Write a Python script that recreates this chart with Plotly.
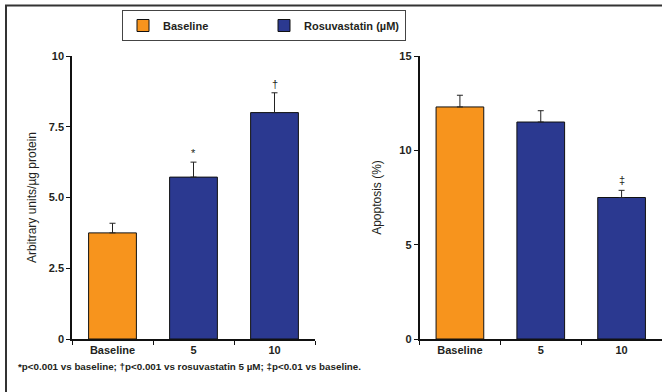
import plotly.graph_objects as go

# ---- data ----
categories = ["Baseline", "5", "10"]
left_values = [3.75, 5.72, 8.0]
left_errors = [0.34, 0.53, 0.70]
right_values = [12.3, 11.5, 7.5]
right_errors = [0.62, 0.60, 0.38]
left_marks = ["", "*", "\u2020"]
right_marks = ["", "", "\u2021"]
left_ticks = [0, 2.5, 5.0, 7.5, 10]
left_ticklabels = ["0", "2.5", "5.0", "7.5", "10"]
right_ticks = [0, 5, 10, 15]
right_ticklabels = ["0", "5", "10", "15"]
legend_names = ["Baseline", "Rosuvastatin (\u00b5M)"]
footnote = "*p<0.001 vs baseline; \u2020p<0.001 vs rosuvastatin 5 \u00b5M; \u2021p<0.01 vs baseline."

ORANGE = "#F7941D"
BLUE = "#2B3990"
TXT = "#231F20"
FONT = "Liberation Sans, Arial, sans-serif"

W, H = 662, 392
ML, MR, MT, MB = 72, 0, 55.5, 53
pw = W - ML - MR
ph = H - MT - MB

def px_x(x):
    return (x - ML) / pw

def px_y(y):
    return (H - MB - y) / ph

fig = go.Figure()

def add_panel(vals, errs, xa, ya, show_legend):
    fig.add_trace(go.Bar(
        x=[categories[0]], y=[vals[0]],
        error_y=dict(type="data", symmetric=False, array=[errs[0]], arrayminus=[0],
                     color="#222", thickness=1, width=3),
        marker=dict(color=ORANGE, line=dict(color="#111", width=1)),
        name=legend_names[0], showlegend=show_legend, legendgroup="base",
        xaxis=xa, yaxis=ya,
    ))
    fig.add_trace(go.Bar(
        x=categories[1:], y=vals[1:],
        error_y=dict(type="data", symmetric=False, array=errs[1:], arrayminus=[0, 0],
                     color="#222", thickness=1, width=3),
        marker=dict(color=BLUE, line=dict(color="#111", width=1)),
        name=legend_names[1], showlegend=show_legend, legendgroup="rosu",
        xaxis=xa, yaxis=ya,
    ))

add_panel(left_values, left_errors, "x", "y", True)
add_panel(right_values, right_errors, "x2", "y2", False)

annotations = []
for i, (v, e, m) in enumerate(zip(left_values, left_errors, left_marks)):
    if m:
        annotations.append(dict(x=i, y=v + e, xref="x", yref="y", text=m,
                                showarrow=False, yanchor="middle", yshift=9,
                                font=dict(family=FONT, size=11, color=TXT)))
for i, (v, e, m) in enumerate(zip(right_values, right_errors, right_marks)):
    if m:
        annotations.append(dict(x=i, y=v + e, xref="x2", yref="y2", text=m,
                                showarrow=False, yanchor="middle", yshift=10,
                                font=dict(family=FONT, size=11, color=TXT)))
annotations.append(dict(x=px_x(16), y=px_y(367), xref="paper", yref="paper",
                        xanchor="left", yanchor="middle", showarrow=False,
                        text=footnote,
                        font=dict(family=FONT, size=9.8, color=TXT, weight="bold")))

tickfont = dict(family=FONT, size=11, color=TXT, weight="bold")
titlefont = dict(family=FONT, size=12, color=TXT)

xcommon = dict(type="category", showline=True, linecolor="#111", linewidth=1.5,
               ticks="outside", tickson="boundaries", ticklen=4, tickcolor="#111",
               tickwidth=1.2, tickangle=0, tickfont=tickfont, showgrid=False,
               zeroline=False, fixedrange=True, automargin=False,
               categoryorder="array", categoryarray=categories,
               range=[-0.5, len(categories) - 0.5])
ycommon = dict(showline=True, linecolor="#111", linewidth=1.5, ticks="outside",
               ticklen=4, tickcolor="#111", tickwidth=1.2, tickfont=tickfont,
               showgrid=False, zeroline=False, fixedrange=True, automargin=False)

fig.update_layout(
    width=W, height=H,
    margin=dict(l=ML, r=MR, t=MT, b=MB, pad=0),
    paper_bgcolor="white", plot_bgcolor="white",
    barmode="overlay", bargap=0.41,
    font=dict(family=FONT, color=TXT),
    xaxis=dict(domain=[0, px_x(315)], anchor="y", **xcommon),
    yaxis=dict(domain=[0, 1], anchor="x", range=[0, 10], tickvals=left_ticks,
               ticktext=left_ticklabels,
               title=dict(text="Arbitrary units/\u00b5g protein", font=titlefont, standoff=10),
               **ycommon),
    xaxis2=dict(domain=[px_x(419.5), 1], anchor="y2", **xcommon),
    yaxis2=dict(domain=[0, 1], anchor="x2", range=[0, 15], tickvals=right_ticks,
                ticktext=right_ticklabels,
                title=dict(text="Apoptosis (%)", font=titlefont, standoff=15),
                **ycommon),
    legend=dict(orientation="h", xref="container", yref="container",
                x=122 / W, xanchor="left", y=1 - 10 / H, yanchor="top",
                bordercolor="#444", borderwidth=1, bgcolor="white",
                entrywidth=96, entrywidthmode="pixels", itemwidth=30,
                font=dict(family=FONT, size=11, color=TXT, weight="bold"),
                traceorder="normal"),
    annotations=annotations,
    shapes=[dict(type="rect", xref="paper", yref="paper",
                 x0=px_x(6), x1=px_x(720), y0=px_y(420), y1=px_y(5),
                 line=dict(color="#333", width=2), fillcolor="rgba(0,0,0,0)", layer="below")],
    showlegend=True,
)

fig.write_html("out.html", config={"displayModeBar": False},
               post_script="document.body.style.margin='0px';document.body.style.overflow='hidden';")
